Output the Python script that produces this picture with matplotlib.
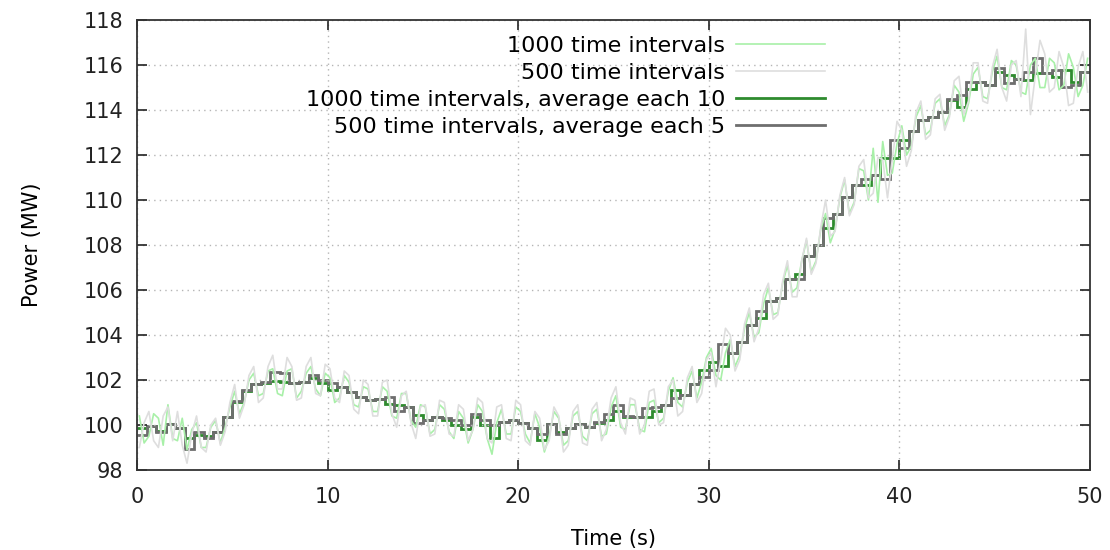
import numpy as np
import matplotlib
matplotlib.use("Agg")
import matplotlib.pyplot as plt

# ---------------- data ----------------
step_edges_t = [i * 0.5 for i in range(101)]

avg1000 = [99.85, 99.95, 99.75, 100.05, 99.85, 99.4, 99.55, 99.5, 99.7, 100.35,
           101.0, 101.5, 101.8, 101.85, 101.97, 101.9, 101.85, 101.9, 102.1, 101.85,
           101.55, 101.7, 101.45, 101.25, 101.1, 101.15, 100.95, 100.9, 100.8, 100.45,
           100.2, 100.35, 100.2, 100.0, 99.8, 100.35, 100.0, 99.4, 100.15, 100.2,
           100.1, 99.85, 99.35, 100.05, 99.7, 99.85, 100.05, 99.9, 100.1, 100.2,
           100.6, 100.37, 100.37, 100.37, 100.6, 100.9, 101.55, 101.35, 101.8, 102.45,
           102.8, 102.6, 103.2, 103.7, 104.45, 104.75, 105.5, 105.65, 106.5, 106.7,
           107.5, 108.0, 108.75, 109.4, 110.15, 110.65, 110.65, 111.1, 111.85, 111.85,
           112.65, 113.05, 113.55, 113.7, 113.9, 114.45, 114.15, 114.95, 115.25, 115.1,
           115.7, 115.55, 115.4, 115.33, 115.63, 115.63, 115.48, 115.78, 115.26, 115.7]

avg500 = [99.55, 99.95, 99.7, 100.05, 99.85, 98.95, 99.7, 99.4, 99.7, 100.35,
          101.05, 101.55, 101.8, 101.9, 102.35, 102.3, 101.85, 101.9, 102.2, 102.0,
          101.85, 101.7, 101.45, 101.25, 101.1, 101.15, 101.25, 100.6, 100.8, 100.1,
          100.2, 100.35, 100.3, 100.2, 100.0, 100.5, 100.2, 100.0, 100.15, 100.2,
          100.1, 99.85, 99.6, 100.05, 99.6, 99.85, 100.05, 99.9, 100.15, 100.5,
          100.9, 100.4, 100.37, 100.74, 100.8, 100.9, 101.2, 101.35, 101.8, 102.15,
          102.45, 103.6, 103.2, 103.7, 104.45, 105.05, 105.5, 105.65, 106.5, 106.5,
          107.5, 108.0, 109.2, 109.4, 110.15, 110.65, 110.95, 111.1, 110.95, 112.65,
          112.3, 113.05, 113.55, 113.7, 113.9, 114.5, 114.65, 115.25, 115.25, 115.1,
          115.85, 115.2, 115.4, 115.7, 116.3, 115.63, 115.78, 115.04, 115.1, 115.7]

raw_t = [0.125 + 0.25 * k for k in range(200)]

raw1000 = [100.4, 99.2, 99.5, 100.5, 100.3, 99.1, 100.9, 99.4, 99.3, 100.3,
           98.9, 99.8, 100.1, 99.0, 99.0, 99.9, 100.2, 99.2, 99.9, 100.8,
           101.5, 100.5, 101.0, 102.0, 102.3, 101.3, 101.4, 102.4, 102.5, 101.4,
           101.3, 102.4, 102.5, 101.2, 101.5, 102.3, 102.6, 101.6, 101.3, 102.3,
           102.1, 101.0, 101.2, 102.2, 101.9, 100.9, 100.8, 101.7, 101.6, 100.6,
           100.6, 101.7, 101.5, 100.4, 100.3, 101.4, 101.4, 100.2, 99.9, 100.9,
           100.8, 99.6, 99.8, 100.9, 100.7, 99.7, 99.4, 100.6, 100.3, 99.2,
           99.8, 100.9, 100.6, 99.4, 98.7, 100.1, 100.7, 99.6, 99.6, 100.8,
           100.6, 99.6, 99.2, 100.5, 99.9, 98.8, 99.5, 100.6, 100.3, 99.1,
           99.3, 100.4, 100.6, 99.5, 99.3, 100.5, 100.7, 99.5, 99.6, 100.8,
           101.3, 99.9, 99.8, 100.9, 100.9, 99.8, 99.7, 101.0, 101.1, 100.1,
           100.3, 101.5, 102.1, 101.0, 100.8, 101.9, 102.4, 101.2, 101.9, 103.0,
           103.4, 102.2, 102.0, 103.2, 103.8, 102.6, 103.1, 104.3, 105.0, 103.9,
           104.1, 105.4, 106.1, 104.9, 105.0, 106.3, 107.1, 105.9, 106.1, 107.3,
           108.2, 106.8, 107.3, 108.7, 109.4, 108.1, 108.7, 110.1, 110.9, 109.4,
           109.9, 111.4, 111.3, 110.0, 112.3, 109.9, 112.6, 111.1, 111.2, 112.5,
           113.3, 112.0, 112.4, 113.7, 114.2, 112.9, 113.1, 114.3, 114.5, 113.3,
           113.8, 115.1, 114.8, 113.5, 114.3, 115.6, 115.9, 114.6, 114.5, 115.7,
           116.4, 115.0, 114.9, 116.2, 116.0, 114.8, 114.7, 116.0, 116.3, 115.0,
           115.0, 116.3, 116.1, 114.9, 115.1, 116.5, 115.9, 114.6, 115.1, 116.3]

raw500 = [99.0, 100.1, 100.6, 99.3, 99.0, 100.4, 100.8, 99.3, 100.6, 99.1,
          98.3, 99.6, 100.4, 99.0, 98.8, 100.0, 100.3, 99.1, 99.7, 101.0,
          101.8, 100.3, 100.9, 102.2, 102.6, 101.0, 101.2, 102.6, 103.1, 101.6,
          101.6, 103.0, 102.6, 101.1, 101.2, 102.6, 103.0, 101.4, 101.3, 102.7,
          102.5, 101.2, 101.0, 102.4, 102.2, 100.7, 100.5, 102.0, 101.8, 100.4,
          100.4, 101.9, 102.0, 100.5, 99.9, 101.3, 101.5, 100.1, 99.4, 100.8,
          100.9, 99.5, 99.6, 101.1, 101.0, 99.6, 99.5, 100.9, 100.7, 99.3,
          99.8, 101.2, 101.0, 99.4, 99.2, 100.8, 100.9, 99.4, 99.3, 101.1,
          100.9, 99.3, 99.1, 100.6, 100.3, 98.9, 99.3, 100.8, 100.4, 98.8,
          99.1, 100.6, 100.9, 99.2, 99.1, 100.7, 101.0, 99.3, 99.8, 101.2,
          101.7, 100.1, 99.6, 101.2, 101.1, 99.6, 100.0, 101.5, 101.6, 100.0,
          100.1, 101.7, 102.0, 100.4, 100.6, 102.1, 102.6, 101.0, 101.4, 102.9,
          103.2, 101.7, 102.9, 104.3, 104.0, 102.4, 102.9, 104.5, 105.2, 103.7,
          104.3, 105.8, 106.3, 104.7, 104.9, 106.4, 107.3, 105.7, 105.7, 107.3,
          108.3, 106.7, 107.2, 108.8, 110.0, 108.4, 108.6, 110.2, 111.0, 109.3,
          109.8, 111.5, 111.8, 110.1, 110.3, 111.9, 111.8, 110.1, 111.8, 113.5,
          113.1, 111.5, 112.2, 113.9, 114.4, 112.7, 112.9, 114.5, 114.7, 113.1,
          113.7, 115.3, 115.5, 113.8, 114.4, 116.1, 116.1, 114.4, 114.3, 115.9,
          116.7, 115.0, 114.4, 116.0, 116.2, 114.6, 117.6, 113.8, 115.5, 117.1,
          116.5, 114.8, 115.0, 116.6, 115.9, 114.2, 114.3, 115.9, 116.6, 114.8]

labels = ["1000 time intervals", "500 time intervals",
          "1000 time intervals, average each 10", "500 time intervals, average each 5"]
x_ticks = [0, 10, 20, 30, 40, 50]
y_ticks = [98, 100, 102, 104, 106, 108, 110, 112, 114, 116, 118]

# ---------------- plot ----------------
plt.rcParams['font.family'] = ['DejaVu Sans']
fig = plt.figure(figsize=(11.1, 5.5), dpi=100)
ax = fig.add_axes([0.1234, 0.1455, 0.8586, 0.818])

ax.plot(raw_t, raw1000, color='#a8f0a8', lw=1.2, label=labels[0])
ax.plot(raw_t, raw500, color='#dedede', lw=1.2, label=labels[1])
ax.stairs(avg1000, step_edges_t, baseline=None, color='#2e8b2e', lw=2.0, label=labels[2])
ax.stairs(avg500, step_edges_t, baseline=None, color='#6e6e6e', lw=2.0, label=labels[3])

ax.set_xlim(0, 50)
ax.set_ylim(98, 118)
ax.set_xticks(x_ticks)
ax.set_yticks(y_ticks)
ax.tick_params(direction='in', length=7, width=1.2, top=True, right=True,
               labelsize=15, colors='#222222')
ax.tick_params(axis='x', pad=12)
ax.tick_params(axis='y', pad=10)
ax.grid(True, color='#b5b5b5', linestyle=(0, (1, 3)), lw=1.0)
for s in ax.spines.values():
    s.set_color('#333333')
    s.set_linewidth(1.3)

ax.set_xlabel("Time (s)", fontsize=15, labelpad=16)
ax.set_ylabel("Power (MW)", fontsize=15, labelpad=30)

leg = ax.legend(loc='upper right', bbox_to_anchor=(0.736, 0.995), frameon=False,
                markerfirst=False, fontsize=16, handlelength=4.0, handletextpad=0.5,
                labelspacing=0.32, borderaxespad=0.2)

fig.savefig("out.png", dpi=100)
